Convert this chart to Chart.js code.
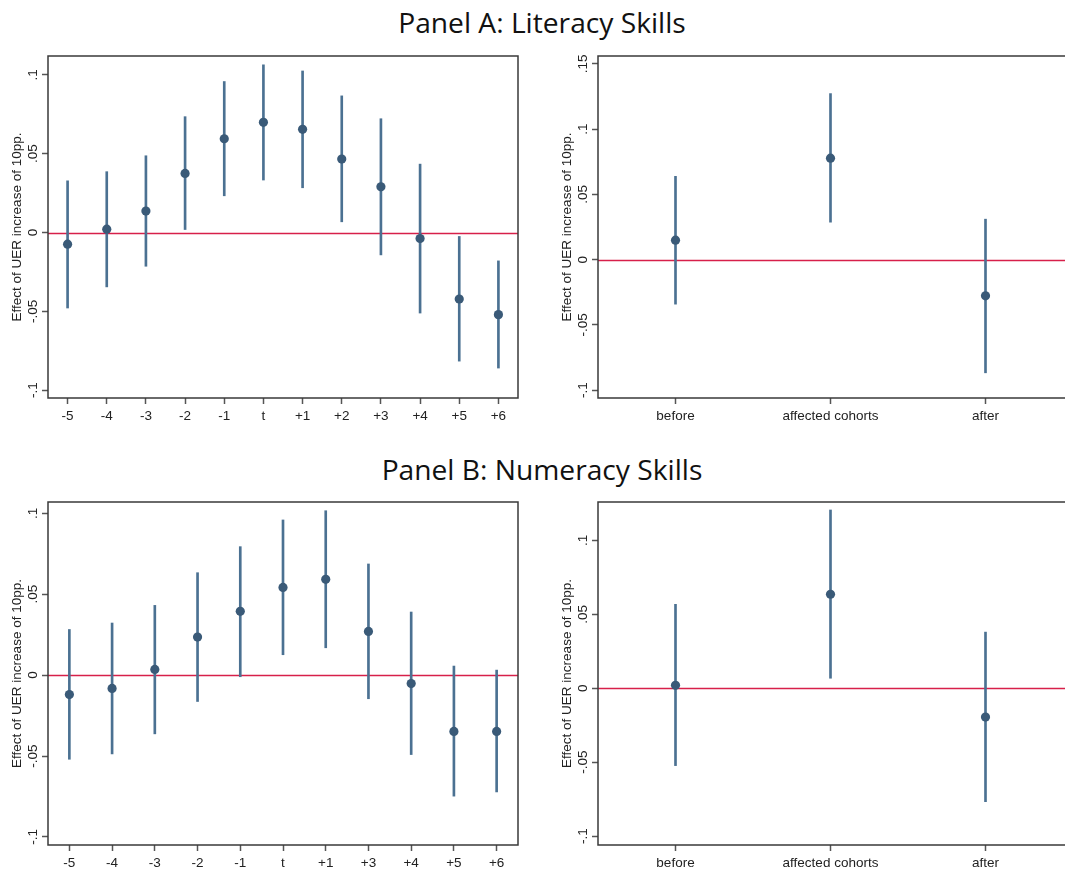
<!DOCTYPE html>
<html lang="en">
<head>
<meta charset="UTF-8">
<title>Panel A / Panel B</title>
<script src="https://cdn.jsdelivr.net/npm/chart.js@4"></script>
<style>
  body { margin: 0; background: #fff; width: 1065px; height: 871px; position: relative; overflow: hidden; }
  .title { position: absolute; left: 0; width: 1084px; text-align: center; font-family: "Open Sans", sans-serif; font-size: 28.2px; line-height: 28px; color: #111; }
  canvas { position: absolute; }
</style>
</head>
<body>
<div class="title" style="top:8px">Panel A: Literacy Skills</div>
<div class="title" style="top:455px">Panel B: Numeracy Skills</div>
<canvas id="aLeft" width="530" height="392" style="left:0;top:50px"></canvas>
<canvas id="aRight" width="540" height="392" style="left:530px;top:50px"></canvas>
<canvas id="bLeft" width="530" height="376" style="left:0;top:495px"></canvas>
<canvas id="bRight" width="540" height="376" style="left:530px;top:495px"></canvas>
<script>
// Panel A (literacy), event-time estimates with 95% CI
const litYears = ["-5", "-4", "-3", "-2", "-1", "t", "+1", "+2", "+3", "+4", "+5", "+6"]
const litEst = [-0.0074, 0.0021, 0.0136, 0.0375, 0.0595, 0.0699, 0.0655, 0.0466, 0.0290, -0.0038, -0.0422, -0.0521]
const litLo  = [-0.0479, -0.0345, -0.0214, 0.0019, 0.0233, 0.0333, 0.0284, 0.0068, -0.0142, -0.0511, -0.0816, -0.0860]
const litHi  = [0.0328, 0.0386, 0.0487, 0.0735, 0.0958, 0.1064, 0.1025, 0.0867, 0.0722, 0.0434, -0.0025, -0.0180]

// Panel A, pooled groups
const groups = ["before", "affected cohorts", "after"]
const litGrpEst = [0.0149, 0.0777, -0.0277]
const litGrpLo  = [-0.0341, 0.0287, -0.0867]
const litGrpHi  = [0.0638, 0.1272, 0.0310]

// Panel B (numeracy), event-time estimates (no +2 column)
const numYears = ["-5", "-4", "-3", "-2", "-1", "t", "+1", "+3", "+4", "+5", "+6"]
const numEst = [-0.0120, -0.0082, 0.0035, 0.0235, 0.0394, 0.0542, 0.0592, 0.0270, -0.0052, -0.0348, -0.0348]
const numLo  = [-0.0520, -0.0487, -0.0363, -0.0163, -0.0010, 0.0126, 0.0169, -0.0146, -0.0491, -0.0748, -0.0722]
const numHi  = [0.0282, 0.0322, 0.0431, 0.0633, 0.0794, 0.0959, 0.1016, 0.0687, 0.0390, 0.0056, 0.0031]

// Panel B, pooled groups
const numGrpEst = [0.0020, 0.0636, -0.0195]
const numGrpLo  = [-0.0523, 0.0068, -0.0767]
const numGrpHi  = [0.0568, 0.1206, 0.0380]

const ticksA  = [-0.1, -0.05, 0, 0.05, 0.1]
const ticksA2 = [-0.1, -0.05, 0, 0.05, 0.1, 0.15]
const yTitle = "Effect of UER increase of 10pp."

const stataLabel = v => v === 0 ? "0" : String(v).replace("0.", ".")

// red reference line at zero + box frame (right side left open on the cropped panels)
const framePlugin = {
  id: "frame",
  beforeDatasetsDraw(chart) {
    const { ctx, chartArea: a, scales: { y } } = chart
    const py = Math.round(y.getPixelForValue(0)) + 0.5
    ctx.save()
    ctx.strokeStyle = "#d7204a"
    ctx.lineWidth = 1.5
    ctx.beginPath()
    ctx.moveTo(a.left, py)
    ctx.lineTo(chart.options.openRight ? chart.width : a.right, py)
    ctx.stroke()
    ctx.restore()
  },
  afterDraw(chart) {
    const { ctx, chartArea: a } = chart
    const open = chart.options.openRight
    const r = open ? chart.width : a.right
    ctx.save()
    ctx.strokeStyle = "#3a3a3a"
    ctx.lineWidth = 1.5
    ctx.beginPath()
    ctx.moveTo(r, a.top)
    ctx.lineTo(a.left, a.top)
    ctx.lineTo(a.left, a.bottom)
    ctx.lineTo(r, a.bottom)
    if (!open) ctx.closePath()
    ctx.stroke()
    ctx.restore()
  }
}

function coefPlot(id, labels, est, lo, hi, opts) {
  const font = { family: "'Liberation Sans', Arial, sans-serif", size: 13.5 }
  new Chart(document.getElementById(id), {
    type: "bar",
    data: {
      labels,
      datasets: [
        {
          type: "line",
          data: est,
          showLine: false,
          pointRadius: 4.6,
          pointHoverRadius: 4.6,
          pointBackgroundColor: "#3a5a78",
          pointBorderWidth: 0,
          order: 0
        },
        {
          data: lo.map((l, i) => [l, hi[i]]),
          backgroundColor: "#4b7192",
          borderWidth: 0,
          barThickness: 2,
          order: 1
        }
      ]
    },
    options: {
      responsive: false,
      animation: false,
      devicePixelRatio: 1,
      openRight: !!opts.openRight,
      layout: { padding: { top: opts.top, right: opts.right, left: 0, bottom: 0 } },
      plugins: { legend: { display: false }, tooltip: { enabled: false } },
      scales: {
        x: {
          offset: true,
          border: { display: false },
          grid: { offset: false, drawOnChartArea: false, tickLength: 6, tickColor: "#555", tickWidth: 1.5 },
          ticks: { color: "#222", font, padding: 4.5, maxRotation: 0, autoSkip: false },
          afterFit: s => { s.height = opts.xh }
        },
        y: {
          min: opts.min,
          max: opts.max,
          border: { display: false },
          grid: { drawOnChartArea: false, tickLength: 6, tickColor: "#555", tickWidth: 1.5 },
          afterBuildTicks: s => { s.ticks = opts.ticks.map(v => ({ value: v })) },
          ticks: {
            color: "#222", font, minRotation: 90, maxRotation: 90,
            crossAlign: "center", padding: -3,
            callback: v => stataLabel(v)
          },
          title: { display: true, text: yTitle, color: "#222", font: { ...font, lineHeight: 1 }, padding: { top: opts.tpad, bottom: 0 } },
          afterFit: s => { s.width = opts.yw }
        }
      }
    },
    plugins: [framePlugin]
  })
}

coefPlot("aLeft", litYears, litEst, litLo, litHi,
  { min: -0.105, max: 0.112, ticks: ticksA, top: 6, right: 12, xh: 44, yw: 48, tpad: 11 })
coefPlot("aRight", groups, litGrpEst, litGrpLo, litGrpHi,
  { min: -0.106, max: 0.156, ticks: ticksA2, top: 6, right: 7, xh: 44, yw: 68, tpad: 31, openRight: true })
coefPlot("bLeft", numYears, numEst, numLo, numHi,
  { min: -0.105, max: 0.107, ticks: ticksA, top: 7, right: 12, xh: 26, yw: 48, tpad: 11 })
coefPlot("bRight", groups, numGrpEst, numGrpLo, numGrpHi,
  { min: -0.106, max: 0.126, ticks: ticksA, top: 7, right: 7, xh: 26, yw: 68, tpad: 31, openRight: true })
</script>
</body>
</html>
